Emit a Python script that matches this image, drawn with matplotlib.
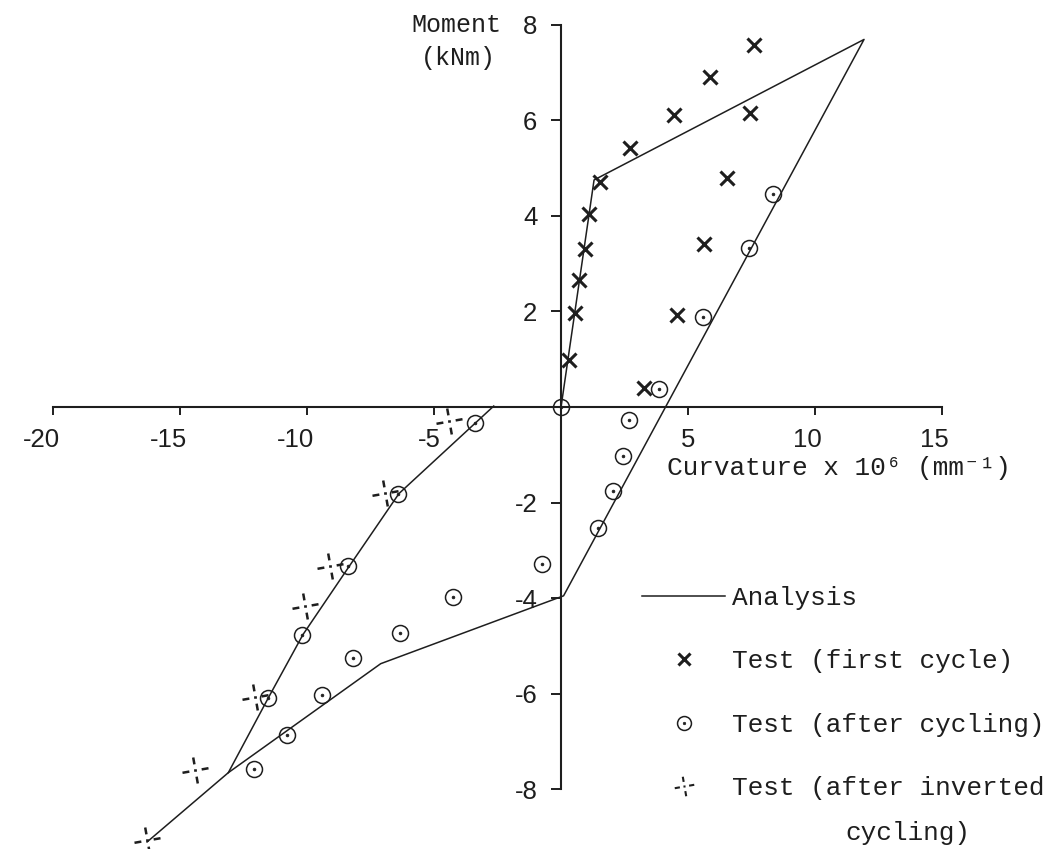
import matplotlib
matplotlib.use("Agg")
import matplotlib.pyplot as plt
from matplotlib.path import Path
from matplotlib.lines import Line2D
from matplotlib.legend_handler import HandlerTuple
from matplotlib.transforms import ScaledTranslation
from matplotlib.font_manager import FontProperties
import numpy as np

plt.rcParams['axes.unicode_minus'] = False
plt.rcParams['font.family'] = ['Liberation Sans', 'DejaVu Sans']

# ---------------- data ----------------
analysis_main_x = [0.0, 1.3, 11.93, 0.1, -7.1, -13.1, -16.3]
analysis_main_y = [0.0, 4.75, 7.69, -3.95, -5.37, -7.65, -9.1]
analysis_branch_x = [-13.1, -11.5, -10.16, -8.35, -6.38, -2.65]
analysis_branch_y = [-7.65, -6.06, -4.76, -3.34, -1.81, 0.02]

first_x = [0.31, 0.55, 0.71, 0.94, 1.10, 1.54, 2.72, 4.45, 5.87, 7.60, 7.44, 6.54, 5.63, 4.57, 3.27]
first_y = [0.98, 1.96, 2.65, 3.31, 4.04, 4.71, 5.42, 6.10, 6.90, 7.58, 6.15, 4.79, 3.42, 1.92, 0.39]

after_x = [0.0, 3.86, 5.59, 7.40, 8.35, 2.68, 2.44, 2.05, 1.46, -0.75,
           -3.39, -6.42, -8.39, -10.20, -11.54, -9.41, -8.19, -6.34, -4.25, -10.79, -12.09]
after_y = [0.0, 0.37, 1.88, 3.33, 4.46, -0.28, -1.03, -1.75, -2.53, -3.28,
           -0.34, -1.81, -3.33, -4.76, -6.08, -6.02, -5.26, -4.72, -3.98, -6.86, -7.58]

inverted_x = [-4.40, -6.93, -9.09, -10.08, -12.05, -14.41, -16.30]
inverted_y = [-0.30, -1.79, -3.33, -4.17, -6.06, -7.60, -9.05]

xtick_vals = [-20, -15, -10, -5, 5, 10, 15]
xtick_labels = ['-20', '-15', '-10', '-5', '5', '10', '15']
ytick_vals = [-8, -6, -4, -2, 2, 4, 6, 8]
ytick_labels = ['-8', '-6', '-4', '-2', '2', '4', '6', '8']

legend_labels = ['Analysis', 'Test (first cycle)', 'Test (after cycling)', 'Test (after inverted']
legend_cont = 'cycling)'
xlabel = 'Curvature x 10\u2076 (mm\u207b\u00b9)'
ylabel1 = 'Moment'
ylabel2 = '(kNm)'

# ---------------- style ----------------
ink = '#1e1e1e'
mono = FontProperties(family=['Liberation Mono', 'DejaVu Sans Mono'], size=18.8)
mono_small = FontProperties(family=['Liberation Mono', 'DejaVu Sans Mono'], size=18)

# custom "dashed star" marker: four short dashes round a centre dot
_angles = np.deg2rad([100, 190, 280, 10])
_verts, _codes = [], []
for a in _angles:
    _verts += [(0.45 * np.cos(a), 0.45 * np.sin(a)), (0.95 * np.cos(a), 0.95 * np.sin(a))]
    _codes += [Path.MOVETO, Path.LINETO]
_verts += [(-0.1, 0.0), (0.1, 0.0)]
_codes += [Path.MOVETO, Path.LINETO]
_verts += [(-1.0, -1.0), (-1.0, -1.0)]
_codes += [Path.MOVETO, Path.MOVETO]
star = Path(_verts, _codes)

fig = plt.figure(figsize=(10.53, 8.49), dpi=100)
fig.patch.set_facecolor('white')
ax = fig.add_axes([0, 0, 1, 1])
ax.set_facecolor('white')
ax.set_xlim(-22.09, 19.37)
ax.set_ylim(-9.247, 8.515)

ax.plot(analysis_main_x, analysis_main_y, color=ink, lw=1.1, zorder=2, clip_on=False)
ax.plot(analysis_branch_x, analysis_branch_y, color=ink, lw=1.1, zorder=2)
ax.plot(first_x, first_y, ls='none', marker='x', ms=10, mew=2.2, color=ink, zorder=3)
ax.plot(after_x, after_y, ls='none', marker='o', ms=11.5, mfc='none', mec=ink, mew=1.1, zorder=3)
ax.plot(after_x, after_y, ls='none', marker='o', ms=2.0, mfc=ink, mec=ink, mew=0.5, zorder=3)
ax.plot(inverted_x, inverted_y, ls='none', marker=star, ms=20, mfc='none', mec=ink, mew=1.8,
        zorder=3, clip_on=False)

for s in ['top', 'right']:
    ax.spines[s].set_visible(False)
ax.spines['left'].set_position(('data', 0))
ax.spines['bottom'].set_position(('data', 0))
ax.spines['bottom'].set_bounds(-20, 15)
ax.spines['left'].set_bounds(-8, 8)
for s in ['left', 'bottom']:
    ax.spines[s].set_linewidth(1.5)
    ax.spines[s].set_color(ink)

ax.set_xticks(xtick_vals)
ax.set_xticklabels(xtick_labels)
ax.set_yticks(ytick_vals)
ax.set_yticklabels(ytick_labels)
ax.tick_params(axis='x', direction='out', length=6, width=1.4, pad=9, labelsize=18.5,
               colors=ink)
ax.tick_params(axis='y', direction='out', length=7, width=1.4, pad=10, labelsize=18.5,
               colors=ink)
offset = ScaledTranslation(0.07, 0, fig.dpi_scale_trans)
for lbl in ax.get_xticklabels():
    lbl.set_horizontalalignment('right')
    lbl.set_transform(lbl.get_transform() + offset)

# axis titles
fig.text(667 / 1053, 1 - 468 / 849, xlabel, ha='left', va='center', fontproperties=mono, color=ink)
fig.text(456 / 1053, 1 - 25 / 849, ylabel1, ha='center', va='center', fontproperties=mono_small, color=ink)
fig.text(458 / 1053, 1 - 58 / 849, ylabel2, ha='center', va='center', fontproperties=mono_small, color=ink)

# legend
h_an = Line2D([], [], color=ink, lw=1.1)
h_first = Line2D([], [], ls='none', marker='x', ms=8.5, mew=2.2, color=ink)
h_after = (Line2D([], [], ls='none', marker='o', ms=10, mfc='none', mec=ink, mew=1.1),
           Line2D([], [], ls='none', marker='o', ms=1.8, mfc=ink, mec=ink, mew=0.5))
h_inv = Line2D([], [], ls='none', marker=star, ms=15, mfc='none', mec=ink, mew=1.5)
leg = ax.legend([h_an, h_first, h_after, h_inv], legend_labels,
                handler_map={tuple: HandlerTuple(ndivide=1, pad=0)},
                loc='upper left', bbox_to_anchor=(642 / 1053, 1 - 586 / 849),
                bbox_transform=fig.transFigure, frameon=False, borderpad=0,
                borderaxespad=0, handlelength=83 / 26.1, handletextpad=7 / 26.1,
                labelspacing=1.51, prop=mono)
for t in leg.get_texts():
    t.set_color(ink)
fig.text(845 / 1053, 1 - 833 / 849, legend_cont, ha='left', va='center', fontproperties=mono, color=ink)

fig.savefig('out.png', dpi=100, facecolor='white')
